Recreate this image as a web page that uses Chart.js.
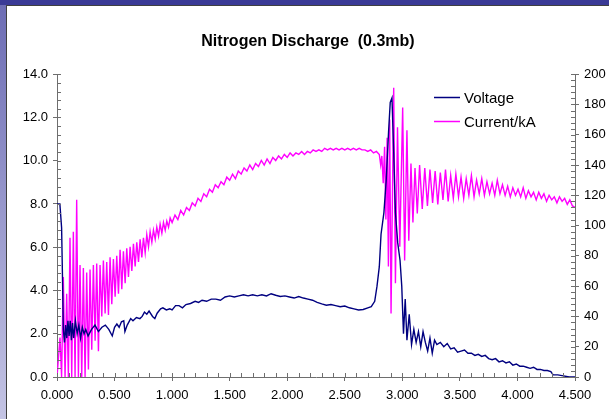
<!DOCTYPE html>
<html>
<head>
<meta charset="utf-8">
<script src="https://cdn.jsdelivr.net/npm/chart.js@4.4.1/dist/chart.umd.min.js"></script>
<style>
  html, body { margin: 0; padding: 0; }
  body {
    width: 609px; height: 419px; overflow: hidden; position: relative;
    background: linear-gradient(to bottom, #6c6cb4, #c4c4e4);
  }
  #topband { position: absolute; left: 0; top: 0; width: 609px; height: 5px; background: #3a3a96; }
  #panel {
    position: absolute; left: 6px; top: 5px; width: 603px; height: 414px;
    background: #fff; border-left: 1px solid #404040; border-top: 1px solid #404040;
  }
  canvas { display: block; }
</style>
</head>
<body>
<div id="topband"></div>
<div id="panel"><canvas id="myChart" width="602" height="413"></canvas></div>
<script>
'use strict';

// time axis (ms) and voltage (left axis)
var voltTime = [0.000, 0.025, 0.040, 0.048, 0.055, 0.065, 0.075, 0.085, 0.095, 0.105,
  0.115, 0.125, 0.135, 0.145, 0.160, 0.175, 0.190, 0.205, 0.220, 0.235,
  0.250, 0.270, 0.300, 0.330, 0.360, 0.390, 0.420, 0.450, 0.470, 0.480,
  0.500, 0.520, 0.540, 0.560, 0.580, 0.590, 0.610, 0.640, 0.660, 0.690,
  0.720, 0.740, 0.760, 0.780, 0.800, 0.830, 0.850, 0.870, 0.900, 0.920,
  0.950, 0.980, 1.000, 1.030, 1.060, 1.090, 1.120, 1.160, 1.200, 1.230,
  1.260, 1.300, 1.340, 1.380, 1.420, 1.460, 1.500, 1.540, 1.580, 1.620,
  1.660, 1.700, 1.740, 1.780, 1.820, 1.860, 1.900, 1.940, 1.980, 2.020,
  2.060, 2.100, 2.140, 2.180, 2.220, 2.260, 2.300, 2.340, 2.380, 2.420,
  2.460, 2.500, 2.540, 2.580, 2.620, 2.660, 2.700, 2.730, 2.760, 2.780,
  2.800, 2.815, 2.840, 2.860, 2.880, 2.895, 2.910, 2.925, 2.940, 2.960,
  2.980, 2.995, 3.010, 3.025, 3.040, 3.060, 3.080, 3.100, 3.120, 3.140,
  3.160, 3.180, 3.200, 3.220, 3.240, 3.260, 3.280, 3.300, 3.330, 3.360,
  3.390, 3.420, 3.450, 3.480, 3.510, 3.540, 3.570, 3.600, 3.630, 3.660,
  3.690, 3.720, 3.750, 3.780, 3.810, 3.840, 3.870, 3.900, 3.930, 3.960,
  3.990, 4.020, 4.050, 4.080, 4.110, 4.140, 4.170, 4.200, 4.230, 4.260,
  4.290, 4.310, 4.350, 4.400, 4.450, 4.500];
var voltage = [8.0, 8.0, 6.9, 4.5, 2.2, 1.6, 2.4, 1.8, 2.6, 1.9,
  2.6, 1.7, 2.5, 1.8, 2.6, 2.0, 2.4, 1.8, 2.3, 2.0,
  2.2, 1.9, 2.2, 2.4, 2.1, 2.3, 2.4, 2.2, 2.0, 1.9,
  2.3, 2.45, 2.3, 2.55, 2.6, 2.1, 2.4, 2.7, 2.6, 2.75,
  2.7, 2.8, 3.0, 2.9, 3.05, 2.8, 2.7, 2.95, 3.15, 3.2,
  3.1, 3.15, 3.1, 3.3, 3.3, 3.2, 3.35, 3.4, 3.5, 3.45,
  3.55, 3.5, 3.6, 3.6, 3.55, 3.7, 3.75, 3.7, 3.75, 3.8,
  3.75, 3.8, 3.75, 3.8, 3.75, 3.85, 3.78, 3.72, 3.75, 3.7,
  3.65, 3.72, 3.65, 3.6, 3.55, 3.45, 3.38, 3.32, 3.35, 3.3,
  3.25, 3.28, 3.2, 3.15, 3.1, 3.12, 3.2, 3.25, 3.5, 4.2,
  5.1, 6.6, 7.6, 9.1, 11.3, 12.7, 12.9, 10.4, 7.6, 6.2,
  5.4, 4.2, 2.0, 3.6, 1.7, 2.9, 1.5, 2.2, 1.6, 2.1,
  1.4, 2.1, 1.6, 1.2, 1.8, 1.1, 1.7, 1.5, 1.6, 1.4,
  1.55, 1.3, 1.35, 1.15, 1.2, 1.25, 1.1, 1.1, 1.0, 1.05,
  0.95, 1.0, 0.85, 0.8, 0.85, 0.7, 0.75, 0.65, 0.7, 0.55,
  0.6, 0.5, 0.5, 0.45, 0.4, 0.45, 0.35, 0.35, 0.3, 0.3,
  0.25, 0.1, 0.1, 0.05, 0.0, 0.0];

// current in kA (right axis)
var currTime = [0.000, 0.026, 0.040, 0.055, 0.070, 0.084, 0.099, 0.113, 0.128, 0.142,
  0.157, 0.171, 0.186, 0.200, 0.215, 0.229, 0.244, 0.258, 0.273, 0.287,
  0.302, 0.316, 0.331, 0.345, 0.360, 0.374, 0.389, 0.403, 0.418, 0.432,
  0.447, 0.461, 0.476, 0.490, 0.505,
  0.519, 0.534, 0.548, 0.563, 0.577, 0.592, 0.606, 0.621, 0.635, 0.650,
  0.664, 0.679, 0.693, 0.708, 0.722, 0.737, 0.751, 0.766, 0.780, 0.795,
  0.809, 0.824, 0.838, 0.853, 0.867, 0.882, 0.896, 0.911, 0.925, 0.940,
  0.954, 0.969, 0.983, 1.000,
  1.025, 1.050, 1.075, 1.100, 1.125, 1.150, 1.175, 1.200, 1.225, 1.250,
  1.275, 1.300, 1.325, 1.350, 1.375, 1.400, 1.425, 1.450, 1.475, 1.500,
  1.525, 1.550, 1.575, 1.600, 1.625, 1.650, 1.675, 1.700, 1.725, 1.750,
  1.775, 1.800, 1.825, 1.850, 1.875, 1.900, 1.925, 1.950, 1.975, 2.000,
  2.025, 2.050, 2.075, 2.100, 2.125, 2.150, 2.175, 2.200, 2.225, 2.250,
  2.275, 2.300, 2.325, 2.350, 2.375, 2.400, 2.425, 2.450, 2.475, 2.500,
  2.525, 2.550, 2.575, 2.600, 2.625, 2.650, 2.675, 2.700, 2.725, 2.750,
  2.775,
  2.800, 2.812, 2.822, 2.834, 2.846, 2.857, 2.868, 2.879, 2.890, 2.902,
  2.925, 2.940, 2.958, 2.978, 3.003, 3.020, 3.040, 3.056, 3.075, 3.092,
  3.110, 3.130,
  3.150, 3.173, 3.195, 3.218, 3.240, 3.263, 3.285, 3.308, 3.330, 3.353,
  3.375, 3.398, 3.420, 3.443, 3.465, 3.488, 3.510, 3.533, 3.555, 3.578,
  3.600, 3.623, 3.645, 3.668, 3.690, 3.713, 3.735, 3.758, 3.780, 3.803,
  3.825, 3.848, 3.870, 3.893, 3.915, 3.938, 3.960, 3.983, 4.005, 4.028,
  4.050, 4.073, 4.095, 4.118, 4.140, 4.163, 4.185, 4.208, 4.230, 4.253,
  4.275, 4.298, 4.320, 4.343, 4.365, 4.388, 4.410, 4.433, 4.455, 4.478,
  4.500];
var current = [0, 26, 0, 66, 0, 55, 0, 92, 0, 96,
  0, 117, 0, 74, 0, 72, 0, 69, 5, 71,
  18, 74, 24, 75, 17, 74, 40, 77, 42, 76,
  41, 79, 48, 78, 53,
  80, 55, 84, 58, 83, 62, 85, 66, 86, 70,
  88, 73, 89, 76, 91, 79, 92, 82, 94, 86,
  96, 89, 97, 91, 99, 93, 101, 95, 102, 97,
  103, 99, 105, 102,
  107, 104, 110, 107, 112, 110, 115, 113, 118, 116,
  121, 119, 124, 122, 127, 125, 129, 127, 132, 130,
  134, 131, 136, 134, 138, 136, 140, 137, 141, 139,
  143, 140, 144, 141, 145, 143, 146, 144, 147, 145,
  148, 146, 148, 147, 149, 147, 149, 148, 150, 149,
  150, 149, 151, 150, 151, 150, 151, 150, 151, 150,
  151, 150, 151, 150, 151, 150, 150, 149, 150, 148,
  149,
  147, 140, 146, 128, 152, 104, 158, 73, 170, 42,
  191, 62, 165, 86, 178, 77, 163, 90, 141, 102,
  138, 108,
  140, 111, 138, 113, 137, 115, 136, 114, 135, 117,
  137, 116, 133, 118, 134, 119, 132, 118, 131, 120,
  133, 119, 130, 121, 131, 120, 129, 121, 128, 120,
  130, 121, 127, 120, 126, 119, 125, 120, 124, 119,
  125, 118, 123, 119, 122, 117, 122, 118, 121, 116,
  120, 117, 119, 115, 119, 116, 118, 114, 117, 113,
  112];

function toPoints(xs, ys) {
  var pts = [];
  for (var i = 0; i < xs.length; i++) {
    pts.push({ x: xs[i], y: ys[i] });
  }
  return pts;
}

Chart.defaults.font.family = 'Arial, "Liberation Sans", sans-serif';
Chart.defaults.font.size = 13;
Chart.defaults.color = '#000';

var axisGrey = '#6e6e6e';

// inside tick marks (minor + major), the outside half comes from the scale itself
var insideTicks = {
  id: 'insideTicks',
  afterDraw: function (chart) {
    var ctx = chart.ctx;
    var area = chart.chartArea;
    var sx = chart.scales.x, sy = chart.scales.y, sy1 = chart.scales.y1;
    ctx.save();
    ctx.strokeStyle = axisGrey;
    ctx.lineWidth = 1;
    ctx.beginPath();
    var i, p;
    for (i = 0; i <= 45; i++) {
      p = Math.round(sx.getPixelForValue(i / 10)) + 0.5;
      ctx.moveTo(p, area.bottom);
      ctx.lineTo(p, area.bottom - 4);
    }
    for (i = 0; i <= 35; i++) {
      p = Math.round(sy.getPixelForValue(i * 0.4)) + 0.5;
      ctx.moveTo(area.left, p);
      ctx.lineTo(area.left + 4, p);
    }
    for (i = 0; i <= 50; i++) {
      p = Math.round(sy1.getPixelForValue(i * 4)) + 0.5;
      ctx.moveTo(area.right, p);
      ctx.lineTo(area.right - 4, p);
    }
    ctx.stroke();
    ctx.restore();
  }
};

// legend drawn inside the plot, top right
var innerLegend = {
  id: 'innerLegend',
  afterDraw: function (chart) {
    var ctx = chart.ctx;
    ctx.save();
    ctx.font = '15px Arial, "Liberation Sans", sans-serif';
    ctx.textBaseline = 'middle';
    chart.data.datasets.forEach(function (ds, i) {
      var y = 91.5 + i * 24;
      ctx.strokeStyle = ds.borderColor;
      ctx.lineWidth = 1.5;
      ctx.beginPath();
      ctx.moveTo(427, y);
      ctx.lineTo(453, y);
      ctx.stroke();
      ctx.fillStyle = '#000';
      ctx.fillText(ds.label, 457, y + 1);
    });
    ctx.restore();
  }
};

var ctx = document.getElementById('myChart').getContext('2d');
var chart = new Chart(ctx, {
  type: 'line',
  data: {
    datasets: [{
      label: 'Voltage',
      data: toPoints(voltTime, voltage),
      borderColor: '#000080',
      borderWidth: 1.4,
      pointRadius: 0,
      tension: 0,
      yAxisID: 'y'
    },
    {
      label: 'Current/kA',
      data: toPoints(currTime, current),
      borderColor: '#ff00ff',
      borderWidth: 1.4,
      pointRadius: 0,
      tension: 0,
      yAxisID: 'y1'
    }]
  },
  options: {
    responsive: false,
    animation: false,
    layout: { padding: 0 },
    plugins: {
      legend: { display: false },
      tooltip: { enabled: false },
      title: {
        display: true,
        text: 'Nitrogen Discharge  (0.3mb)',
        color: '#000',
        font: { size: 16, weight: 'bold', lineHeight: 1.2 },
        padding: { top: 26, bottom: 23 }
      }
    },
    scales: {
      x: {
        type: 'linear',
        min: 0,
        max: 4.5,
        afterFit: function (s) { s.height = 42; },
        border: { color: axisGrey, width: 1 },
        grid: { drawOnChartArea: false, color: axisGrey, tickLength: 4 },
        ticks: {
          stepSize: 0.5,
          padding: 7,
          maxRotation: 0,
          callback: function (v) { return v.toFixed(3); }
        }
      },
      y: {
        position: 'left',
        min: 0,
        max: 14,
        afterFit: function (s) { s.width = 50; },
        border: { color: axisGrey, width: 1 },
        grid: { drawOnChartArea: false, color: axisGrey, tickLength: 4 },
        ticks: {
          stepSize: 2,
          padding: 5,
          callback: function (v) { return v.toFixed(1); }
        }
      },
      y1: {
        position: 'right',
        min: 0,
        max: 200,
        afterFit: function (s) { s.width = 34; },
        border: { color: axisGrey, width: 1 },
        grid: { drawOnChartArea: false, color: axisGrey, tickLength: 4 },
        ticks: { stepSize: 20, padding: 5 }
      }
    }
  },
  plugins: [insideTicks, innerLegend]
});
</script>
</body>
</html>
